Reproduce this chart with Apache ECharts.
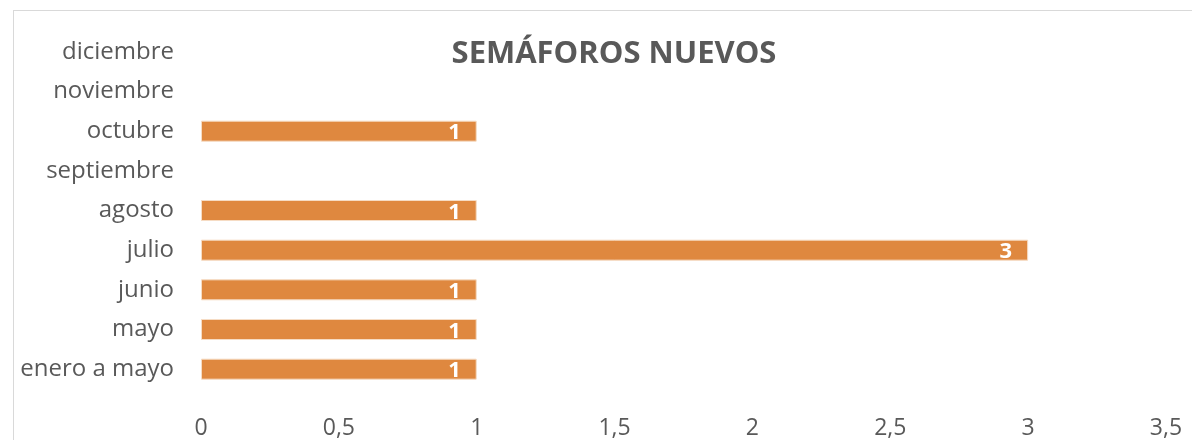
<!DOCTYPE html>
<html lang="es">
<head>
<meta charset="UTF-8">
<title>Semáforos nuevos</title>
<style>
  html, body { margin: 0; padding: 0; background: #fff; overflow: hidden; }
  #frame {
    position: absolute; left: 13px; top: 10px;
    width: 1200px; height: 450px;
    border: 1.5px solid #d9d9d9;
  }
  #main { position: absolute; left: 0; top: 2px; width: 1192px; height: 438px; }
</style>
</head>
<body>
<div id="frame"></div>
<div id="main"></div>
<script src="https://cdn.jsdelivr.net/npm/echarts@6/dist/echarts.min.js"></script>
<script>
  // data, bottom to top
  var months = ["enero a mayo", "mayo", "junio", "julio", "agosto", "septiembre", "octubre", "noviembre", "diciembre"];
  var values = [1, 1, 1, 3, 1, null, 1, null, null];
  var xTicks = [0, 0.5, 1, 1.5, 2, 2.5, 3, 3.5];

  var myChart = echarts.init(document.getElementById('main'));
  var font = "'Open Sans', sans-serif";

  var option = {
    animation: false,
    title: {
      text: "SEMÁFOROS NUEVOS",
      left: 609,
      textAlign: "center",
      top: 32,
      textStyle: { fontFamily: font, fontSize: 31, fontWeight: "bold", color: "#595959" }
    },
    grid: { left: 201, right: 26, top: 30, bottom: 49 },
    xAxis: {
      type: "value",
      min: xTicks[0],
      max: xTicks[xTicks.length - 1],
      interval: 0.5,
      axisLine: { show: false },
      axisTick: { show: false },
      splitLine: { show: false },
      axisLabel: {
        margin: 28,
        fontFamily: font, fontSize: 23, color: "#595959",
        formatter: function (v) { return String(v).replace(".", ","); }
      }
    },
    yAxis: {
      type: "category",
      data: months,
      axisLine: { show: false },
      axisTick: { show: false },
      axisLabel: { margin: 27, fontFamily: font, fontSize: 24, color: "#595959" }
    },
    series: [{
      type: "bar",
      data: values,
      barWidth: 21,
      itemStyle: { color: "#df883f", borderColor: "#f6dcc4", borderWidth: 1 },
      label: {
        show: true,
        position: "insideRight",
        offset: [-11, 2],
        fontFamily: font, fontSize: 22, fontWeight: "bold", color: "#fff"
      }
    }]
  };
  myChart.setOption(option);
</script>
</body>
</html>
